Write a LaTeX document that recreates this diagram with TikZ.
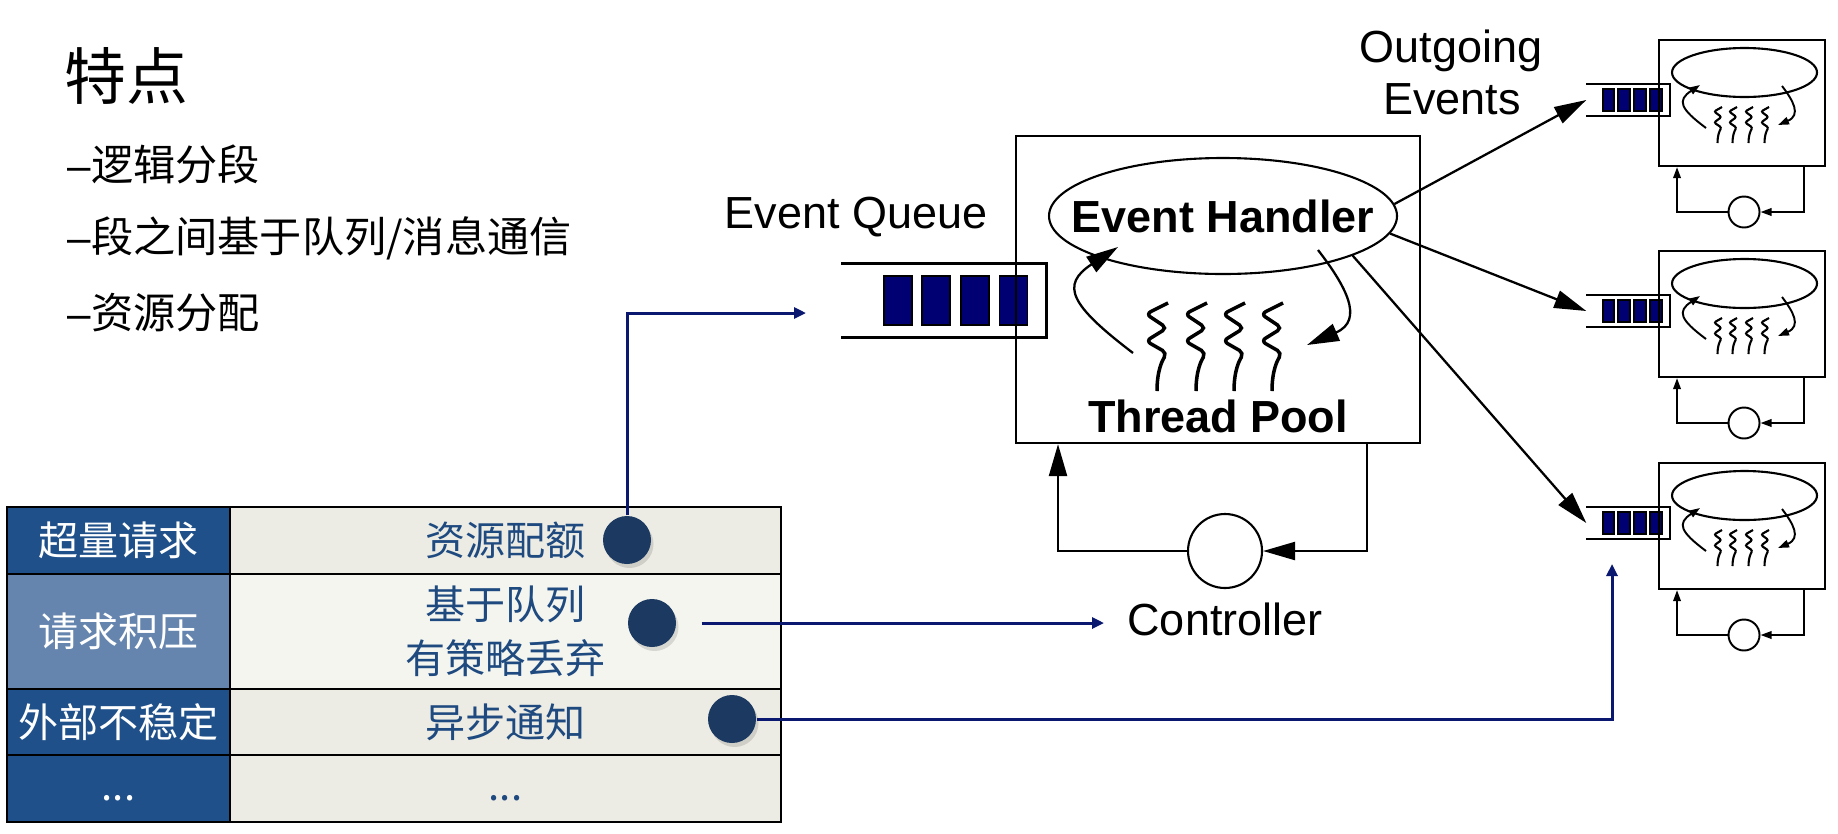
\documentclass[tikz,border=0pt]{standalone}
\usepackage{fontspec}
\setmainfont{Liberation Sans}
\newfontfamily\cjk{Noto Sans CJK SC}
\usetikzlibrary{arrows.meta,calc,positioning,shapes.geometric,shadows}
\definecolor{sdnavy}{HTML}{0B1870}
\definecolor{sdqueue}{HTML}{000073}
\definecolor{sdhead}{HTML}{1F508A}
\definecolor{sdheadlt}{HTML}{6585AE}
\definecolor{sdcell}{HTML}{ECECE4}
\definecolor{sdcelllt}{HTML}{F4F5EF}
\definecolor{sdcelltext}{HTML}{1F4A80}
\definecolor{sddot}{HTML}{1B3961}
\tikzset{
  sd label/.style={font=\fontsize{12.8}{15}\selectfont, inner sep=0pt},
  sd bold/.style={font=\fontsize{12.8}{15}\selectfont\bfseries, inner sep=0pt},
  sd point/.style={font=\fontsize{12}{14}\selectfont, anchor=west, inner sep=0pt},
  sd box/.style={draw, line width=0.6pt, minimum width=40.4mm, minimum height=30.7mm,
    inner sep=0pt, anchor=north west},
  sd subbox/.style={draw, line width=0.6pt, minimum width=16.6mm, minimum height=12.6mm,
    inner sep=0pt, anchor=north west},
  sd handler/.style={draw, ellipse, line width=0.6pt, inner sep=0pt},
  sd queue/.style={line width=1pt},
  sd block/.style={draw, fill=sdqueue, line width=0.5pt, inner sep=0pt},
  sd thread/.style={line width=1pt, rounded corners=1.5pt},
  sd subthread/.style={line width=0.6pt, rounded corners=0.6pt},
  sd arrow/.style={-{Triangle[length=3.2mm,width=1.8mm]}, line width=0.65pt},
  sd subarrow/.style={-{Triangle[length=1.1mm,width=0.75mm]}, line width=0.55pt},
  sd link/.style={-{Triangle[length=1.2mm,width=1.1mm]}, draw=sdnavy, line width=0.85pt},
  sd head/.style={draw, line width=0.6pt, fill=sdhead, text=white, align=center,
    font=\cjk\fontsize{11.4}{15.4}\selectfont, minimum width=22.3mm, inner sep=0pt,
    anchor=north west},
  sd cell/.style={draw, line width=0.6pt, fill=sdcell, text=sdcelltext, align=center,
    font=\cjk\fontsize{11.4}{15.4}\selectfont, minimum width=55.1mm, inner sep=0pt,
    anchor=north west},
  sd dot/.style={circle, fill=sddot, minimum size=4.8mm, inner sep=0pt,
    drop shadow={shadow xshift=0.25mm, shadow yshift=-0.4mm, fill=black, opacity=0.12}}
}
\begin{document}
\begin{tikzpicture}[x=0.1mm, y=-0.1mm]
  \useasboundingbox (0,0) rectangle (1838,833);
  \fill[white] (0,0) rectangle (1838,833);

  % heading and points
  \node[font=\cjk\fontsize{17.6}{20}\selectfont, anchor=west, inner sep=0pt] (title) at (64,76) {特点};
  \node[sd point] (p1) at (67,164) {–{\cjk 逻辑分段}};
  \node[sd point] (p2) at (67,238) {–{\cjk 段之间基于队列/消息通信}};
  \node[sd point] (p3) at (67,313) {–{\cjk 资源分配}};

  % table
  \node[sd head, minimum height=6.7mm] (h1) at (6,506) {超量请求};
  \node[sd cell, minimum height=6.7mm] (c1) at (229,506) {资源配额};
  \node[sd head, fill=sdheadlt, minimum height=11.5mm] (h2) at (6,573) {请求积压};
  \node[sd cell, fill=sdcelllt, minimum height=11.5mm] (c2) at (229,573) {基于队列\\有策略丢弃};
  \node[sd head, minimum height=6.7mm] (h3) at (6,688) {外部不稳定};
  \node[sd cell, minimum height=6.6mm] (c3) at (229,688) {异步通知};
  \node[sd head, minimum height=6.7mm] (h4) at (6,754) {\raisebox{-1.2mm}[0pt][0pt]{...}};
  \node[sd cell, minimum height=6.7mm] (c4) at (229,754) {\raisebox{-1.2mm}[0pt][0pt]{...}};
  \node[sd dot] (d1) at (627,540) {};
  \node[sd dot] (d2) at (652,623) {};
  \node[sd dot] (d3) at (732,719) {};

  % main stage
  \node[sd label, anchor=base] (evqlab) at (856,228) {Event Queue};
  \node[minimum width=20.4mm, minimum height=7.3mm, inner sep=0pt] (evq) at (944,300.5) {};
  \draw[sd queue] (evq.north west) -- (evq.north east) -- (evq.south east) -- (evq.south west);
  \foreach \bx in {898,936,975,1013.5}
    \node[sd block, minimum width=2.8mm, minimum height=4.9mm] at (\bx,300.5) {};
  \node[sd box] (stage) at (1015,135) {};
  \node[sd handler, minimum width=34.8mm, minimum height=11.6mm] (hand) at (1223,216) {};
  \node[sd bold] (handlab) at (hand) {Event Handler};
  \node[sd bold, anchor=base] (pool) at (1218,432) {Thread Pool};
  \foreach \tx in {1168,1207,1245,1283}
    \draw[sd thread, shift={(\tx,303)}] (0,0) -- (-22,11) -- (-1,25) -- (-22,38) -- (-1,50)
      .. controls (-6,58) and (-11,68) .. (-11,88);
  \draw[sd arrow] (1133,353) .. controls (1070,305) and (1060,285) .. (1118,247);
  \draw[sd arrow] (1318,250) .. controls (1345,285) and (1365,320) .. (1307,345);
  \node[circle, draw, line width=0.6pt, minimum size=7.4mm, inner sep=0pt] (ctrl) at (1225,551) {};
  \node[sd label, below=1.3mm of ctrl] (ctrllab) {Controller};
  \draw[sd arrow] ([xshift=-5.4mm]stage.south east) |- (ctrl.east);
  \draw[sd arrow] (ctrl.west) -| ([xshift=4.3mm]stage.south west);
  \node[sd label, anchor=base] (outlab) at (1451,62) {Outgoing};
  \node[sd label, anchor=base] (outlab2) at (1452,114) {Events};

  % downstream stages
  \foreach \sy/\sn in {39/a,250/b,462/c} {
    \begin{scope}[shift={(1658,\sy)}]
      \node[minimum width=8.2mm, minimum height=3mm, inner sep=0pt] (subq-\sn) at (-30,61) {};
      \draw[line width=0.6pt] (subq-\sn.north west) -- (subq-\sn.north east)
        -- (subq-\sn.south east) -- (subq-\sn.south west);
      \foreach \bx in {-49.5,-34,-18,-2}
        \node[sd block, minimum width=1.15mm, minimum height=2.2mm] at (\bx,61) {};
      \node[sd subbox] (sub-\sn) at (0,0) {};
      \node[sd handler, minimum width=14.5mm, minimum height=4.9mm] (subh-\sn) at (86.5,33.5) {};
      \foreach \tx in {64,79,95,111}
        \draw[sd subthread, shift={(\tx,68)}] (0,0) -- (-8,4.5) -- (-0.5,10) -- (-8,15.5)
          -- (-0.5,20.5) .. controls (-2.5,24) and (-4.5,28) .. (-4.5,36);
      \draw[sd subarrow] (48,89) .. controls (22.5,70) and (18.5,61.5) .. (42,46);
      \draw[sd subarrow] (124,47) .. controls (135,61.5) and (143.5,76) .. (120,86);
      \node[circle, draw, line width=0.55pt, minimum size=3.1mm, inner sep=0pt] (subc-\sn) at (86,173) {};
      \draw[sd subarrow] ([xshift=-2.2mm]sub-\sn.south east) |- (subc-\sn.east);
      \draw[sd subarrow] (subc-\sn.west) -| ([xshift=1.9mm]sub-\sn.south west);
    \end{scope}
  }
  \draw[sd arrow] (hand.4) -- (subq-a.west);
  \draw[sd arrow] (hand.-6) -- (subq-b.west);
  \draw[sd arrow] (hand.-17) -- (subq-c.west);

  % links from the table
  \coordinate (eqin) at (806,313);
  \coordinate (ctrlin) at (1104,623);
  \coordinate (subin) at (1612,564);
  \draw[sd link] (d1.north) |- (eqin);
  \draw[sd link] ([xshift=2.5mm]d2.east) -- (ctrlin);
  \draw[sd link] (d3.east) -| (subin);
\end{tikzpicture}
\end{document}
